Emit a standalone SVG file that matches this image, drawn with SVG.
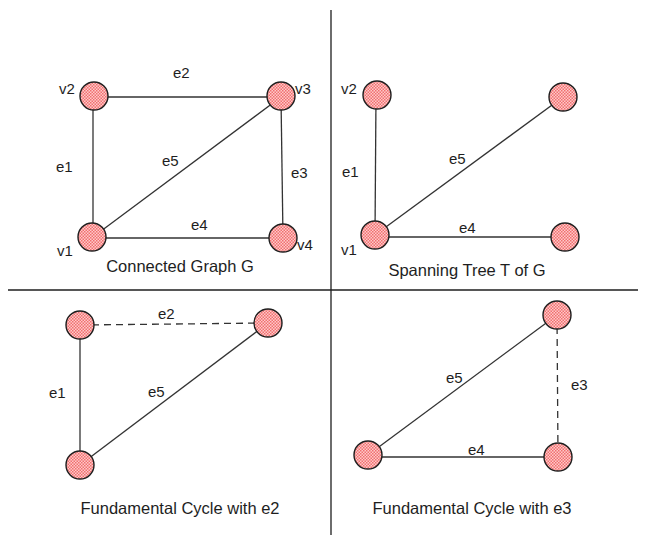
<svg xmlns="http://www.w3.org/2000/svg" width="645" height="542" viewBox="0 0 645 542">
<defs>
<pattern id="hatch" width="3" height="3" patternUnits="userSpaceOnUse">
<rect width="3" height="3" fill="#ffc9c9"/>
<rect width="1.5" height="1.5" fill="#f07070"/>
<rect x="1.5" y="1.5" width="1.5" height="1.5" fill="#f07070"/>
</pattern>
<style>
.n{fill:url(#hatch);stroke:#1e1e1e;stroke-width:1.4}
.e{stroke:#333;stroke-width:1.3;fill:none}
.d{stroke:#333;stroke-width:1.3;fill:none;stroke-dasharray:7 5}
.div{stroke:#1e1e1e;stroke-width:1.3}
text{font-family:"Liberation Sans","DejaVu Sans",sans-serif;font-size:15px;fill:#1e1e1e}
.c{text-anchor:middle;font-size:16.5px}
</style>
</defs>
<rect width="645" height="542" fill="#fff"/>
<g id="dividers">
<line class="div" x1="331" y1="10" x2="331" y2="535"/>
<line class="div" x1="8" y1="290" x2="638" y2="290"/>
</g>
<g id="connectors">
<line class="e" x1="94" y1="97" x2="281" y2="97"/>
<line class="e" x1="93" y1="97" x2="93" y2="237"/>
<line class="e" x1="93" y1="237" x2="281" y2="97"/>
<line class="e" x1="281" y1="97" x2="283" y2="238"/>
<line class="e" x1="93" y1="238" x2="283" y2="238"/>
<line class="e" x1="376" y1="95" x2="375" y2="235"/>
<line class="e" x1="375" y1="235" x2="563" y2="97"/>
<line class="e" x1="375" y1="237" x2="565" y2="237"/>
<line class="d" x1="80" y1="325" x2="268" y2="323"/>
<line class="e" x1="80" y1="325" x2="80" y2="465"/>
<line class="e" x1="80" y1="465" x2="268" y2="323"/>
<line class="e" x1="368" y1="455" x2="557" y2="315"/>
<line class="d" x1="557" y1="315" x2="558" y2="457"/>
<line class="e" x1="368" y1="457" x2="558" y2="457"/>
</g>
<g id="p1-v2"><circle class="n" cx="94" cy="96" r="14"/><text x="59" y="94">v2</text></g>
<g id="p1-v3"><circle class="n" cx="281" cy="96" r="14"/><text x="295" y="94">v3</text></g>
<g id="p1-v1"><circle class="n" cx="92" cy="237" r="14"/><text x="57" y="256">v1</text></g>
<g id="p1-v4"><circle class="n" cx="283" cy="238" r="14"/><text x="297" y="250">v4</text></g>
<g id="p1-labels">
<text x="173" y="78">e2</text>
<text x="56" y="172">e1</text>
<text x="162" y="166">e5</text>
<text x="291" y="178">e3</text>
<text x="191" y="230">e4</text>
<text class="c" x="180" y="272">Connected Graph G</text>
</g>
<g id="p2-v2"><circle class="n" cx="377" cy="95" r="14"/><text x="341" y="94">v2</text></g>
<g id="p2-v3"><circle class="n" cx="563" cy="97" r="14"/></g>
<g id="p2-v1"><circle class="n" cx="375" cy="235" r="14"/><text x="341" y="255">v1</text></g>
<g id="p2-v4"><circle class="n" cx="565" cy="237" r="14"/></g>
<g id="p2-labels">
<text x="342" y="177">e1</text>
<text x="449" y="164">e5</text>
<text x="459" y="233">e4</text>
<text class="c" x="467" y="276">Spanning Tree T of G</text>
</g>
<g id="p3-a"><circle class="n" cx="80" cy="325" r="14"/></g>
<g id="p3-b"><circle class="n" cx="268" cy="323" r="14"/></g>
<g id="p3-c"><circle class="n" cx="80" cy="465" r="14"/></g>
<g id="p3-labels">
<text x="158" y="319">e2</text>
<text x="49" y="398">e1</text>
<text x="148" y="397">e5</text>
<text class="c" x="180" y="514">Fundamental Cycle with e2</text>
</g>
<g id="p4-a"><circle class="n" cx="557" cy="315" r="14"/></g>
<g id="p4-b"><circle class="n" cx="368" cy="455" r="14"/></g>
<g id="p4-c"><circle class="n" cx="558" cy="457" r="14"/></g>
<g id="p4-labels">
<text x="446" y="383">e5</text>
<text x="571" y="390">e3</text>
<text x="468" y="455">e4</text>
<text class="c" x="472" y="514">Fundamental Cycle with e3</text>
</g>
</svg>
